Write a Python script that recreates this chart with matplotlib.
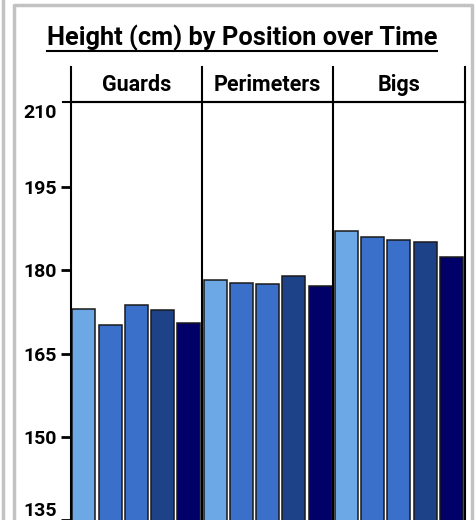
import matplotlib
matplotlib.use("Agg")
import matplotlib.pyplot as plt
from matplotlib.lines import Line2D

plt.rcParams['font.family'] = ['Roboto', 'DejaVu Sans']

# data
positions = ['Guards', 'Perimeters', 'Bigs']
eras = ['era1', 'era2', 'era3', 'era4', 'era5']
guards = [173.1, 170.1, 173.75, 172.85, 170.45]
perimeters = [178.3, 177.8, 177.5, 179.0, 177.2]
bigs = [187.2, 186.1, 185.4, 185.1, 182.4]
heights = [guards, perimeters, bigs]
colors = ['#6ca8e6', '#3a6fca', '#3a6fca', '#1e4287', '#000068']
yticks = [135, 150, 165, 180, 195, 210]

W, H = 476, 520
fig = plt.figure(figsize=(W / 100, H / 100), dpi=100)


def fx(px):
    return px / W


def fy(py):
    return 1 - py / H


# plot area in pixel terms
left, right, top, bottom = 70.7, 464.5, 101.7, 520
ax = fig.add_axes([fx(left), fy(bottom), fx(right - left), fy(top) - fy(bottom)])

for g, vals in enumerate(heights):
    for i, v in enumerate(vals):
        ax.bar(g * 5 + i + 0.5, v - 130, bottom=130, width=0.87,
               color=colors[i], edgecolor='#1a1a1a', linewidth=1.1, zorder=2)

ax.set_xlim(0, 15)
ax.set_ylim(134.95, 210.45)
ax.set_xticks([])
ax.set_yticks(yticks)
ax.set_yticklabels([str(t) for t in yticks], fontsize=14, fontweight='bold')
ax.tick_params(axis='y', length=7, width=2, pad=3, color='black')
labels = ax.get_yticklabels()
labels[0].set_va('bottom')
labels[-1].set_va('top')
ax.yaxis.get_major_ticks()[-1].tick1line.set_visible(False)

for s in ['left', 'right', 'top']:
    ax.spines[s].set_linewidth(1.5)
ax.spines['bottom'].set_visible(False)

# panel dividers
for g in [1, 2]:
    ax.axvline(g * 5, color='black', linewidth=1.5, zorder=3)

# top line extends left as the 210 tick
ax.add_line(Line2D([-8 / (right - left), 1], [1, 1], transform=ax.transAxes,
                   color='black', linewidth=1.5, clip_on=False))

# header row
head_top = 67
for x in [left, left + (right - left) / 3, left + 2 * (right - left) / 3, right]:
    fig.add_artist(Line2D([fx(x), fx(x)], [fy(head_top), fy(top)],
                          color='black', linewidth=1.5))
for g, name in enumerate(positions):
    cx = left + (g + 0.5) * (right - left) / 3
    fig.text(fx(cx), fy(85), name, ha='center', va='center',
             fontsize=15.5, fontweight='bold')

# title with underline
t = fig.text(fx(242), fy(38), 'Height (cm) by Position over Time',
             ha='center', va='center', fontsize=18.3, fontweight='bold')
fig.canvas.draw()
bb = t.get_window_extent(fig.canvas.get_renderer())
uy = fy(51)
fig.add_artist(Line2D([bb.x0 / W, bb.x1 / W], [uy, uy], color='black', linewidth=1.5))

# grey card frame
grey = '#c2c2c2'
fig.add_artist(Line2D([fx(3), fx(3)], [0, 1], color=grey, linewidth=2.5))
fig.add_artist(Line2D([fx(13.5), fx(13.5), fx(471.5), fx(471.5)],
                      [0, fy(5), fy(5), 0], color=grey, linewidth=2.5))

fig.savefig('out.png', dpi=100)
